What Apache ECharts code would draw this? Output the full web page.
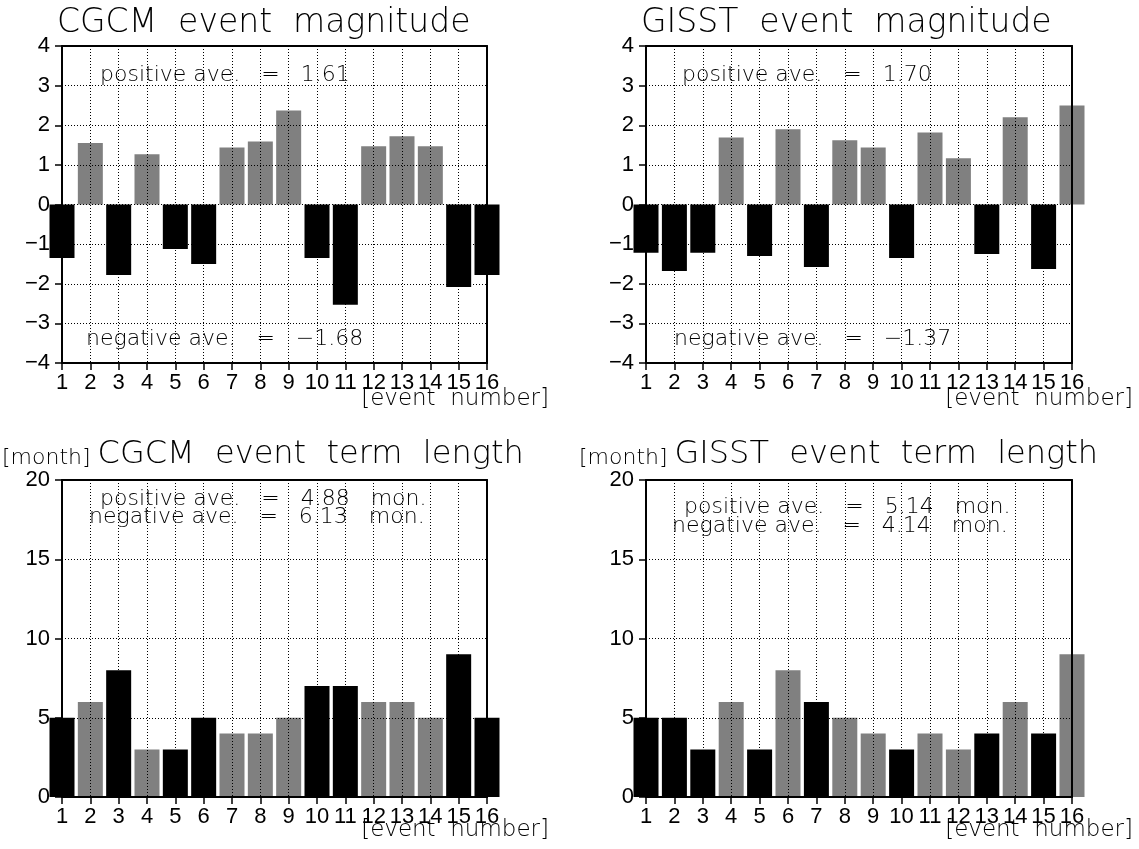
<!DOCTYPE html>
<html>
<head>
<meta charset="utf-8">
<title>CGCM / GISST event magnitude and term length</title>
<script src="https://cdn.jsdelivr.net/npm/echarts@6/dist/echarts.min.js"></script>
<style>
  html, body { margin: 0; padding: 0; background: #fff; }
  #chart { width: 1139px; height: 849px; }
</style>
</head>
<body>
<div id="chart"></div>
<script>
// event numbers (x axis)
const events = [1, 2, 3, 4, 5, 6, 7, 8, 9, 10, 11, 12, 13, 14, 15, 16];

// event magnitude
const cgcmMagnitude = [-1.35, 1.55, -1.78, 1.27, -1.12, -1.50, 1.44, 1.59, 2.37, -1.35, -2.53, 1.47, 1.72, 1.47, -2.08, -1.78];
const gisstMagnitude = [-1.22, -1.68, -1.22, 1.69, -1.30, 1.90, -1.58, 1.62, 1.44, -1.35, 1.82, 1.17, -1.25, 2.20, -1.63, 2.50];

// event term length [month]
const cgcmLength = [5, 6, 8, 3, 3, 5, 4, 4, 5, 7, 7, 6, 6, 5, 9, 5];
const gisstLength = [5, 5, 3, 6, 3, 8, 6, 5, 4, 3, 4, 3, 4, 6, 4, 9];

// tick labels
const magnitudeTicks = [-4, -3, -2, -1, 0, 1, 2, 3, 4];
const lengthTicks = [0, 5, 10, 15, 20];

const GRAY = '#808080';
const BLACK = '#000';
const TICK_FONT = 'Liberation Sans Narrow, Liberation Sans, sans-serif';
const THIN_FONT = 'DejaVu Sans, sans-serif';

const panels = [
  { rect: { left: 62, top: 46, width: 425, height: 317 }, values: cgcmMagnitude, signs: cgcmMagnitude, ticks: magnitudeTicks },
  { rect: { left: 646, top: 46, width: 426, height: 317 }, values: gisstMagnitude, signs: gisstMagnitude, ticks: magnitudeTicks },
  { rect: { left: 62, top: 480, width: 425, height: 317 }, values: cgcmLength, signs: cgcmMagnitude, ticks: lengthTicks },
  { rect: { left: 646, top: 480, width: 426, height: 317 }, values: gisstLength, signs: gisstMagnitude, ticks: lengthTicks },
];

const grid = [];
const xAxis = [];
const yAxis = [];
const series = [];

panels.forEach((p, i) => {
  grid.push(Object.assign({ containLabel: false }, p.rect));
  const yMin = p.ticks[0];
  const yMax = p.ticks[p.ticks.length - 1];
  const yStep = p.ticks[1] - p.ticks[0];

  // bottom x axis with labels and dotted vertical grid
  xAxis.push({
    type: 'value', gridIndex: i, min: events[0], max: events[events.length - 1], interval: 1,
    position: 'bottom', z: 3,
    axisLine: { show: true, onZero: false, lineStyle: { color: BLACK, width: 2 } },
    axisTick: { show: true, length: 7, lineStyle: { color: BLACK, width: 1.5 } },
    axisLabel: { margin: 9, color: BLACK, fontFamily: TICK_FONT, fontSize: 22, showMinLabel: true, showMaxLabel: true },
    splitLine: { show: true, lineStyle: { color: BLACK, width: 1, type: [1, 2] } },
  });
  // top frame
  xAxis.push({
    type: 'value', gridIndex: i, min: events[0], max: events[events.length - 1], position: 'top', z: 4,
    axisLine: { show: true, onZero: false, lineStyle: { color: BLACK, width: 2 } },
    axisTick: { show: false }, axisLabel: { show: false }, splitLine: { show: false },
  });
  // left y axis
  yAxis.push({
    type: 'value', gridIndex: i, min: yMin, max: yMax, interval: yStep, position: 'left', z: 3,
    axisLine: { show: true, onZero: false, lineStyle: { color: BLACK, width: 2 } },
    axisTick: { show: true, length: 7, lineStyle: { color: BLACK, width: 1.5 } },
    axisLabel: {
      margin: 12, color: BLACK, fontFamily: TICK_FONT, fontSize: 22,
      formatter: (v) => (v < 0 ? '\u2212' + Math.abs(v) : String(v)),
    },
    splitLine: { show: true, lineStyle: { color: BLACK, width: 1, type: [1, 2] } },
  });
  // right frame
  yAxis.push({
    type: 'value', gridIndex: i, min: yMin, max: yMax, position: 'right', z: 4,
    axisLine: { show: true, onZero: false, lineStyle: { color: BLACK, width: 2 } },
    axisTick: { show: false }, axisLabel: { show: false }, splitLine: { show: false },
  });

  series.push({
    type: 'bar',
    xAxisIndex: i * 2,
    yAxisIndex: i * 2,
    barWidth: 25,
    clip: true,
    silent: true,
    z: 2,
    data: p.values.map((v, k) => ({
      value: [events[k], v],
      itemStyle: { color: p.signs[k] > 0 ? GRAY : BLACK },
    })),
  });
});

function thinText(text, x, y, size, align) {
  return {
    type: 'text', silent: true, z: 10,
    style: {
      text: text, x: x, y: y, fill: BLACK,
      font: '200 ' + size + 'px ' + THIN_FONT,
      align: align || 'left', verticalAlign: 'middle',
    },
  };
}

function monthTitle(text, x, y) {
  return {
    type: 'text', silent: true, z: 10,
    style: {
      text: '{s|[month] }{b|' + text + '}', x: x, y: y, fill: BLACK,
      verticalAlign: 'middle',
      rich: {
        s: { font: '200 22px ' + THIN_FONT, fill: BLACK, verticalAlign: 'bottom', padding: [0, 0, 2, 0] },
        b: { font: '200 32px ' + THIN_FONT, fill: BLACK, verticalAlign: 'bottom' },
      },
    },
  };
}

const graphic = [
  thinText('CGCM  event  magnitude', 57, 23, 33),
  thinText('GISST  event  magnitude', 641, 23, 33),
  monthTitle('CGCM  event  term  length', 2, 455),
  monthTitle('GISST  event  term  length', 579, 455),

  thinText('positive ave.   =   1.61', 100, 75, 22),
  thinText('negative ave.   =   \u22121.68', 86, 339, 22),
  thinText('positive ave.   =   1.70', 682, 75, 22),
  thinText('negative ave.   =   \u22121.37', 674, 339, 22),
  thinText('positive ave.   =   4.88   mon.', 100, 499, 22),
  thinText('negative ave.   =   6.13   mon.', 89, 517, 22),
  thinText('positive ave.   =   5.14   mon.', 684, 507, 22),
  thinText('negative ave.   =   4.14   mon.', 672, 526, 22),

  thinText('[event  number]', 549, 399, 23, 'right'),
  thinText('[event  number]', 1133, 399, 23, 'right'),
  thinText('[event  number]', 549, 830, 23, 'right'),
  thinText('[event  number]', 1133, 830, 23, 'right'),
];

const chart = echarts.init(document.getElementById('chart'), null, { renderer: 'canvas' });
chart.setOption({
  animation: false,
  backgroundColor: '#fff',
  grid: grid,
  xAxis: xAxis,
  yAxis: yAxis,
  series: series,
  graphic: graphic,
});
</script>
</body>
</html>
